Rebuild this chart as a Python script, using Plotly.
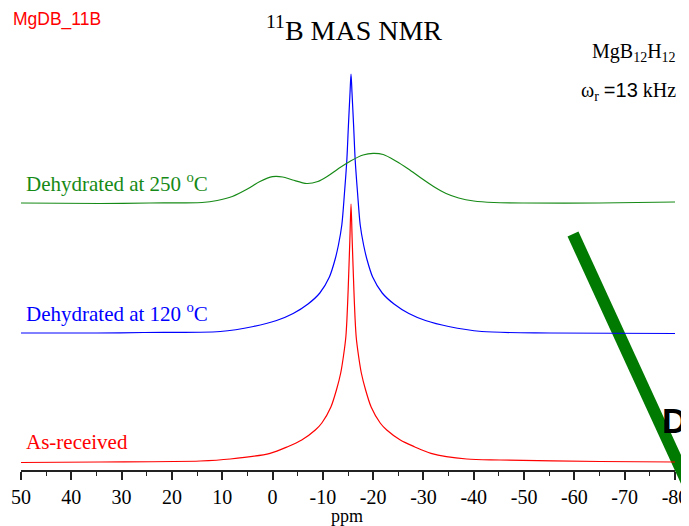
import plotly.graph_objects as go

# ---------------- data ----------------
# chemical shift (ppm) and intensity (arbitrary units, stacked offsets included)
red_ppm = [50, 34.3, 14.4, 8.4, 0.5, -3.0, -5.8, -8.5, -9.8, -11.6, -12.7, -13.55,
           -14.1, -14.57, -14.8, -15.03, -15.37, -15.6, -15.83, -16.17, -16.4, -16.63,
           -17.1, -17.65, -18.5, -19.6, -21.4, -22.7, -25.4, -28.2, -31.5, -38.6,
           -45.2, -65.1, -80]
red_int = [7.5, 8, 9, 11, 16.7, 23.3, 30, 40, 47, 63, 80, 97,
           114, 133, 152, 180, 230, 266, 230, 180, 152, 133,
           114, 97, 80, 63, 47, 40, 30, 23.3, 16.7, 11,
           10, 8.5, 8]

blue_ppm = [50, 35, 25.6, 10.4, 3.8, -0.8, -4.1, -7.05, -9.4, -11.3, -12.4, -13.1,
            -13.77, -14.3, -14.77, -15.07, -15.4, -15.6, -15.8, -16.13, -16.43, -16.9,
            -17.43, -18.1, -18.8, -19.9, -21.8, -24.15, -27.1, -30.4, -35.0, -41.6,
            -55.2, -80]
blue_int = [137, 137, 137.5, 138.5, 143.5, 149.5, 156.5, 166, 177, 193, 210, 225,
            245, 277, 310, 343, 377, 396, 377, 343, 310, 277,
            245, 225, 210, 193, 177, 166, 156.5, 149.5, 143.5, 138.5,
            137, 136.5]

green_ppm = [50, 34.3, 24.4, 14.0, 11.0, 8.0, 5.0, 2.5, 0.0, -2.0, -4.0, -6.8,
             -9.0, -11.0, -13.0, -15.5, -18.0, -20.0, -22.0, -24.5, -27.0, -29.5,
             -32.0, -34.5, -37.0, -40.0, -44.0, -50.0, -65.0, -80]
green_int = [267, 266.5, 267, 267.5, 269.5, 273.5, 281, 288.5, 293.3, 293, 290, 286.5,
             288.5, 294, 301, 309, 315, 316.7, 315.5, 309, 301, 292,
             283.5, 276.5, 272, 269, 267.5, 267, 267, 268]

series_names = ["As-received", "Dehydrated at 120 <sup>o</sup>C", "Dehydrated at 250 <sup>o</sup>C"]

tick_values = [50, 40, 30, 20, 10, 0, -10, -20, -30, -40, -50, -60, -70, -80]
tick_labels = ["50", "40", "30", "20", "10", "0", "-10", "-20", "-30", "-40",
               "-50", "-60", "-70", "-80"]

# ---------------- layout helpers ----------------
# window is 689x526; the page body has an 8 px margin, so the figure is
# placed at (8, 8) and made 8 px smaller to end exactly at the window edge.
WIN_W, WIN_H, BODY = 689, 526, 8
W, H = WIN_W - BODY, WIN_H - BODY
# plot area in window pixels
PL, PR, PT, PB = 21, 675, 40, 470


def pxx(px):
    return (px - PL) / (PR - PL)


def pyy(py):
    return (PB - py) / (PB - PT)


SERIF = "Liberation Serif, Times New Roman, serif"
SANS = "Liberation Sans, Arial, sans-serif"

fig = go.Figure()
for x, y, c in [(red_ppm, red_int, "#ff0000"),
                (blue_ppm, blue_int, "#0000ff"),
                (green_ppm, green_int, "#168a16")]:
    fig.add_trace(go.Scatter(x=x, y=y, mode="lines",
                             line=dict(color=c, width=1.2, shape="spline", smoothing=0.8),
                             showlegend=False, hoverinfo="skip"))

ann = []
ann.append(dict(text="MgDB_11B", x=pxx(11), y=pyy(19), xanchor="left", yanchor="middle",
                font=dict(family=SANS, size=17.5, color="#ff0000")))
ann.append(dict(text="<sup>11</sup>B MAS NMR", x=pxx(354), y=pyy(29), xanchor="center",
                yanchor="middle", font=dict(family=SERIF, size=28, color="black")))
ann.append(dict(text="MgB<sub>12</sub>H<sub>12</sub>", x=pxx(590), y=pyy(53), xanchor="left",
                yanchor="middle", font=dict(family=SERIF, size=20, color="black")))
ann.append(dict(text='ω<sub>r</sub> <span style="font-family:Liberation Sans">=13</span> kHz',
                x=pxx(579), y=pyy(92), xanchor="left", yanchor="middle",
                font=dict(family=SERIF, size=20, color="black")))
label_pos = [(442, "#ff0000"), (312, "#0000ff"), (182, "#168a16")]
for name, (py, c) in zip(series_names, label_pos):
    ann.append(dict(text=name, x=pxx(24), y=pyy(py), xanchor="left", yanchor="middle",
                    font=dict(family=SERIF, size=21, color=c)))
ann.append(dict(text="ppm", x=pxx(347), y=pyy(516), xanchor="center", yanchor="middle",
                font=dict(family=SERIF, size=18, color="black")))
ann.append(dict(text="<b>D</b>", x=pxx(660), y=pyy(420), xanchor="left", yanchor="middle",
                font=dict(family=SANS, size=35, color="black")))
for a in ann:
    a.update(xref="paper", yref="paper", showarrow=False)

fig.add_shape(type="line", xref="paper", yref="paper",
              x0=pxx(573), y0=pyy(234), x1=pxx(707), y1=pyy(526),
              line=dict(color="#007a00", width=12), layer="below")

fig.update_layout(
    width=W, height=H,
    margin=dict(l=PL - BODY, r=WIN_W - PR, t=PT - BODY, b=WIN_H - PB, autoexpand=False),
    paper_bgcolor="white", plot_bgcolor="white",
    annotations=ann,
    xaxis=dict(range=[50, -80], tickvals=tick_values, ticktext=tick_labels,
               automargin=False,
               ticks="outside", ticklen=8, tickwidth=1.5, tickcolor="#222",
               showline=True, linecolor="#222", linewidth=2,
               showgrid=False, zeroline=False,
               minor=dict(dtick=5, ticks="outside", ticklen=4, tickwidth=1.2, tickcolor="#222"),
               tickfont=dict(family=SERIF, size=20, color="black")),
    yaxis=dict(range=[0, PB - PT], visible=False, showgrid=False, zeroline=False,
               automargin=False),
)

fig.write_html("out.html")
